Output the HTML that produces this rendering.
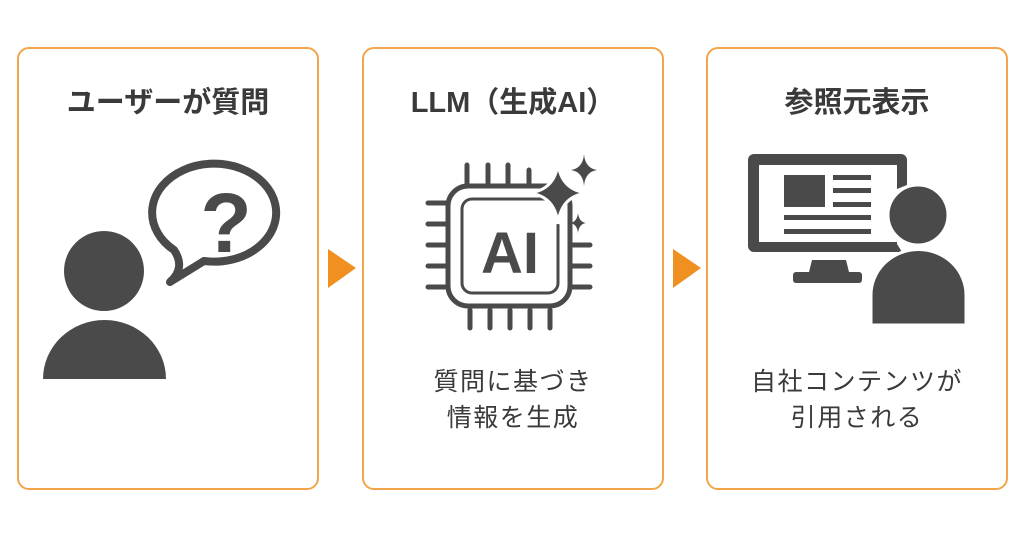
<!DOCTYPE html>
<html><head><meta charset="utf-8"><style>
body{margin:0;width:1024px;height:537px;background:#fff;overflow:hidden;position:relative;font-family:"Liberation Sans","Noto Sans CJK JP",sans-serif;color:#444}
.box{position:absolute;top:47px;width:302px;height:443px;border:2px solid #f2a54a;border-radius:12px;box-sizing:border-box}
.t{position:absolute;width:302px;text-align:center;font-weight:bold;font-size:29px;line-height:34px;top:86px;color:#3a3a3a}
.d{position:absolute;width:302px;text-align:center;font-size:25px;letter-spacing:1.5px;line-height:36px;top:364px;color:#3a3a3a}
</style></head><body>
<div class="box" style="left:17px"></div>
<div class="box" style="left:362px"></div>
<div class="box" style="left:706px"></div>
<div class="t" style="left:17px">ユーザーが質問</div>
<div class="t" style="left:362px">LLM（生成AI）</div>
<div class="t" style="left:706px">参照元表示</div>
<div class="d" style="left:362px">質問に基づき<br>情報を生成</div>
<div class="d" style="left:706px">自社コンテンツが<br>引用される</div>
<svg width="1024" height="537" style="position:absolute;left:0;top:0">
<polygon points="328,249 356,268 328,288" fill="#ef9020"/>
<polygon points="673,249 701,268 673,288" fill="#ef9020"/>
<g fill="#4a4a4a">
<circle cx="104" cy="271" r="40"/>
<path d="M43,379 A61.5,59 0 0 1 166,379 Z"/>
<path d="M174,250 A62,49 0 1 1 204,261 L170,282 Q186,268 174,250 Z" fill="none" stroke="#4a4a4a" stroke-width="8" stroke-linejoin="round"/>
<text x="226" y="252" font-size="84" font-weight="bold" text-anchor="middle" font-family="Liberation Sans,sans-serif">?</text>
</g>
<g stroke="#4a4a4a" fill="none" stroke-linecap="round">
<rect x="448" y="186" width="122" height="120" rx="20" stroke-width="5"/>
<rect x="462" y="199" width="96" height="94" rx="10" stroke-width="3"/>
<g stroke-width="5">
<path d="M467,165v18M488,165v18M508,165v18M529,170v13"/>
<path d="M470,310v18M490,310v18M510,310v18M530,310v18M550,310v18"/>
<path d="M428,203h18M428,224h18M428,245h18M428,266h18M428,287h18"/>
<path d="M573,245h17M573,266h17M573,287h17"/>
</g>
</g>
<text x="510" y="273" font-size="58" font-weight="bold" text-anchor="middle" fill="#4a4a4a" font-family="Liberation Sans,sans-serif">AI</text>
<g fill="#4a4a4a">
<path d="M558,163 Q561,190 587,193 Q561,196 558,224 Q555,196 529,193 Q555,190 558,163Z" stroke="#fff" stroke-width="3"/>
<path d="M584,154 Q585,168 597,170 Q585,172 584,186 Q583,172 571,170 Q583,168 584,154Z"/>
<path d="M578,213 Q579,222 586,223 Q579,224 578,233 Q577,224 570,223 Q577,222 578,213Z"/>
</g>
<g fill="#4a4a4a">
<path d="M754,154h147a6,6 0 0 1 6,6v25l-10,4v-24h-138v77h138v2l5,8h-148a6,6 0 0 1 -6,-6v-86a6,6 0 0 1 6,-6z"/>
<rect x="784" y="175" width="41" height="32"/>
<rect x="833" y="175" width="38" height="5"/><rect x="833" y="188" width="38" height="5"/><rect x="833" y="202" width="38" height="5"/>
<rect x="784" y="215" width="87" height="5"/><rect x="784" y="229" width="87" height="5"/>
<path d="M812,260h34l3,12h-40z"/>
<rect x="793" y="272" width="69" height="11" rx="3"/>
<circle cx="918" cy="215" r="30" stroke="#fff" stroke-width="3"/>
<path d="M871,325v-30a47,45 0 0 1 95,0v30z" stroke="#fff" stroke-width="3"/>
</g>
</svg>
</body></html>
